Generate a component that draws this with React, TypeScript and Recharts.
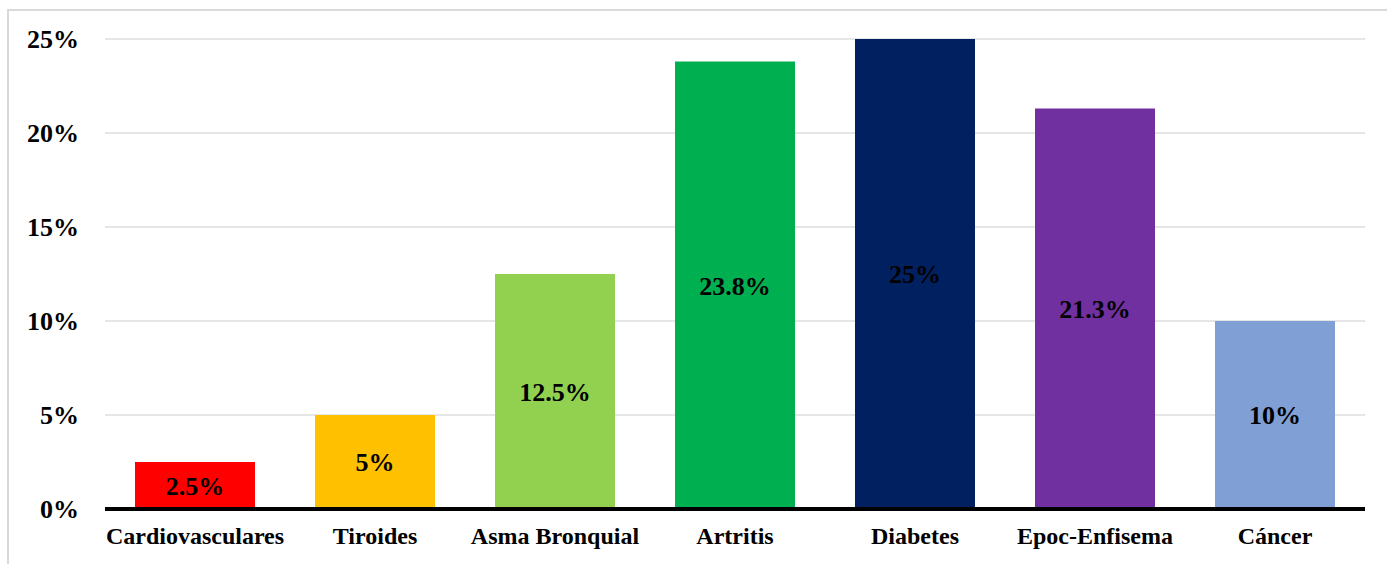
import { BarChart, Bar, XAxis, YAxis, CartesianGrid, Cell, LabelList } from "recharts";

const categories = [
  "Cardiovasculares", "Tiroides", "Asma Bronquial", "Artritis",
  "Diabetes", "Epoc-Enfisema", "Cáncer",
];
const percentages = [2.5, 5, 12.5, 23.8, 25, 21.3, 10];
const barColors = [
  "#FF0000", "#FFC000", "#92D050", "#00B050", "#002060", "#7030A0", "#7F9FD5",
];
const yTicks = [0, 5, 10, 15, 20, 25];

const FONT = '"Liberation Serif", "Times New Roman", serif';

const data = categories.map((name, i) => ({ name, value: percentages[i] }));

export default function App() {
  return (
    <div style={{ position: "relative", width: 1387, height: 564, overflow: "hidden", background: "#fff" }}>
      <style>{"body{margin:0}"}</style>
      <div
        style={{
          position: "absolute", left: 7, top: 9, width: 1400, height: 600,
          border: "2px solid #d9d9d9", boxSizing: "border-box",
        }}
      />
      <div style={{ position: "absolute", left: 0, top: 0 }}>
        <BarChart
          width={1387}
          height={564}
          data={data}
          margin={{ top: 39, right: 22, bottom: 25, left: 0 }}
          barSize={120}
        >
          <CartesianGrid vertical={false} stroke="#e6e6e6" strokeWidth={2} />
          <XAxis
            dataKey="name"
            height={30}
            axisLine={{ stroke: "#000", strokeWidth: 4 }}
            tickLine={false}
            tickMargin={12}
            interval={0}
            tick={{ fontFamily: FONT, fontSize: 24, fontWeight: 700, fill: "#000" }}
          />
          <YAxis
            domain={[0, 25]}
            ticks={yTicks}
            width={105}
            axisLine={false}
            tickLine={false}
            tickSize={0}
            tickMargin={26}
            tickFormatter={(v: number) => `${v}%`}
            tick={{ fontFamily: FONT, fontSize: 26, fontWeight: 700, fill: "#000" }}
          />
          <Bar dataKey="value" isAnimationActive={false}>
            {data.map((_, i) => (
              <Cell key={i} fill={barColors[i]} />
            ))}
            <LabelList
              dataKey="value"
              position="center"
              formatter={(v: number) => `${v}%`}
              style={{ fontFamily: FONT, fontSize: 26, fontWeight: 700, fill: "#000" }}
            />
          </Bar>
        </BarChart>
      </div>
    </div>
  );
}
